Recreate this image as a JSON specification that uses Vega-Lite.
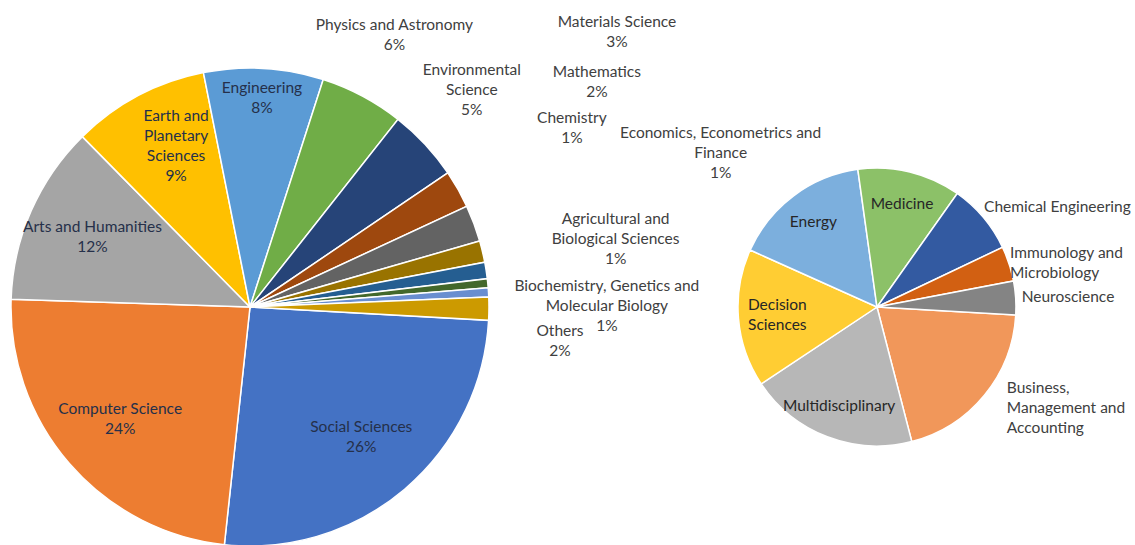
{
  "$schema": "https://vega.github.io/schema/vega-lite/v6.json",
  "width": 1135,
  "height": 476,
  "autosize": {"type": "none"},
  "padding": {"left": 0, "top": 69, "right": 0, "bottom": 0},
  "background": "white",
  "config": {
    "view": {"stroke": null},
    "text": {"font": "Lato", "fontSize": 15.5, "lineHeight": 20, "lineBreak": "\n", "color": "#404040"}
  },
  "datasets": {
    "main": [
      {"rank": 1, "category": "Social Sciences", "label": "Social Sciences", "share": 0.2582, "pie": "main"},
      {"rank": 2, "category": "Computer Science", "label": "Computer Science", "share": 0.2381, "pie": "main"},
      {"rank": 3, "category": "Arts and Humanities", "label": "Arts and Humanities", "share": 0.1211, "pie": "main"},
      {"rank": 4, "category": "Earth and Planetary Sciences", "label": "Earth and\nPlanetary\nSciences", "share": 0.0925, "pie": "main"},
      {"rank": 5, "category": "Engineering", "label": "Engineering", "share": 0.0808, "pie": "main"},
      {"rank": 6, "category": "Physics and Astronomy", "label": "Physics and Astronomy", "share": 0.0567, "pie": "main"},
      {"rank": 7, "category": "Environmental Science", "label": "Environmental\nScience", "share": 0.0489, "pie": "main"},
      {"rank": 8, "category": "Materials Science", "label": "Materials Science", "share": 0.0256, "pie": "main"},
      {"rank": 9, "category": "Mathematics", "label": "Mathematics", "share": 0.0247, "pie": "main"},
      {"rank": 10, "category": "Chemistry", "label": "Chemistry", "share": 0.0145, "pie": "main"},
      {"rank": 11, "category": "Economics, Econometrics and Finance", "label": "Economics, Econometrics and\nFinance", "share": 0.0111, "pie": "main"},
      {"rank": 12, "category": "Agricultural and Biological Sciences", "label": "Agricultural and\nBiological Sciences", "share": 0.0061, "pie": "main"},
      {"rank": 13, "category": "Biochemistry, Genetics and Molecular Biology", "label": "Biochemistry, Genetics and\nMolecular Biology", "share": 0.0061, "pie": "main"},
      {"rank": 14, "category": "Others", "label": "Others", "share": 0.0156, "pie": "main"}
    ],
    "sub": [
      {"rank": 1, "category": "Business, Management and Accounting", "label": "Business,\nManagement and\nAccounting", "share": 0.003129, "pie": "sub"},
      {"rank": 2, "category": "Multidisciplinary", "label": "Multidisciplinary", "share": 0.003072, "pie": "sub"},
      {"rank": 3, "category": "Decision Sciences", "label": "Decision\nSciences", "share": 0.002505, "pie": "sub"},
      {"rank": 4, "category": "Energy", "label": "Energy", "share": 0.002508, "pie": "sub"},
      {"rank": 5, "category": "Medicine", "label": "Medicine", "share": 0.001872, "pie": "sub"},
      {"rank": 6, "category": "Chemical Engineering", "label": "Chemical Engineering", "share": 0.00127, "pie": "sub"},
      {"rank": 7, "category": "Immunology and Microbiology", "label": "Immunology and\nMicrobiology", "share": 0.000633, "pie": "sub"},
      {"rank": 8, "category": "Neuroscience", "label": "Neuroscience", "share": 0.000612, "pie": "sub"}
    ]
  },
  "encoding": {
    "x": {"field": "pie", "type": "nominal", "axis": null,
          "scale": {"type": "point", "domain": ["main", "sub"], "padding": 0.4051, "align": 0.4921}}
  },
  "layer": [
    {
      "data": {"name": "main"},
      "mark": {"type": "arc", "radius": 239, "stroke": "white", "strokeWidth": 1.5},
      "encoding": {
        "theta": {"field": "share", "type": "quantitative", "stack": true, "scale": {"range": [1.62665, 7.90984]}},
        "order": {"field": "rank", "type": "quantitative"},
        "color": {"field": "category", "type": "nominal", "legend": null,
          "scale": {
            "domain": ["Social Sciences", "Computer Science", "Arts and Humanities", "Earth and Planetary Sciences", "Engineering", "Physics and Astronomy", "Environmental Science", "Materials Science", "Mathematics", "Chemistry", "Economics, Econometrics and Finance", "Agricultural and Biological Sciences", "Biochemistry, Genetics and Molecular Biology", "Others", "Business, Management and Accounting", "Multidisciplinary", "Decision Sciences", "Energy", "Medicine", "Chemical Engineering", "Immunology and Microbiology", "Neuroscience"],
            "range": ["#4472C4", "#ED7D31", "#A5A5A5", "#FFC000", "#5B9BD5", "#70AD47", "#264478", "#9E480E", "#636363", "#997300", "#255E91", "#43682B", "#698ED0", "#CC9A00", "#F1975A", "#B7B7B7", "#FFCD33", "#7CAFDD", "#8CC168", "#335AA1", "#D26012", "#848484"]
          }}
      }
    },
    {
      "data": {"name": "sub"},
      "mark": {"type": "arc", "radius": 139, "stroke": "white", "strokeWidth": 1.5},
      "encoding": {
        "theta": {"field": "share", "type": "quantitative", "stack": true, "scale": {"range": [1.6284, 7.91159]}},
        "order": {"field": "rank", "type": "quantitative"},
        "color": {"field": "category", "type": "nominal", "legend": null}
      }
    },
    {
      "data": {"name": "main"},
      "mark": {"type": "text", "radius": 172, "baseline": "line-bottom", "align": "center", "color": "#25304a"},
      "encoding": {
        "theta": {"field": "share", "type": "quantitative", "stack": true, "scale": {"range": [1.62665, 7.90984]}},
        "order": {"field": "rank", "type": "quantitative"},
        "detail": {"field": "category", "type": "nominal"},
        "text": {"condition": {"test": {"field": "category", "oneOf": ["Social Sciences", "Computer Science", "Arts and Humanities"]}, "field": "label", "type": "nominal"}, "value": ""}
      }
    },
    {
      "data": {"name": "main"},
      "mark": {"type": "text", "radius": 172, "baseline": "line-top", "align": "center", "color": "#25304a"},
      "encoding": {
        "theta": {"field": "share", "type": "quantitative", "stack": true, "scale": {"range": [1.62665, 7.90984]}},
        "order": {"field": "rank", "type": "quantitative"},
        "detail": {"field": "category", "type": "nominal"},
        "text": {"condition": {"test": {"field": "category", "oneOf": ["Social Sciences", "Computer Science", "Arts and Humanities"]}, "field": "share", "type": "quantitative", "format": ".0%"}, "value": ""}
      }
    },
    {
      "data": {"name": "main"},
      "mark": {"type": "text", "radius": 158, "baseline": "line-bottom", "align": "center", "dy": -40, "color": "#25304a"},
      "encoding": {
        "theta": {"field": "share", "type": "quantitative", "stack": true, "scale": {"range": [1.62665, 7.90984]}},
        "order": {"field": "rank", "type": "quantitative"},
        "detail": {"field": "category", "type": "nominal"},
        "text": {"condition": {"test": {"field": "category", "oneOf": ["Earth and Planetary Sciences"]}, "field": "label", "type": "nominal"}, "value": ""}
      }
    },
    {
      "data": {"name": "main"},
      "mark": {"type": "text", "radius": 158, "baseline": "line-top", "align": "center", "color": "#25304a"},
      "encoding": {
        "theta": {"field": "share", "type": "quantitative", "stack": true, "scale": {"range": [1.62665, 7.90984]}},
        "order": {"field": "rank", "type": "quantitative"},
        "detail": {"field": "category", "type": "nominal"},
        "text": {"condition": {"test": {"field": "category", "oneOf": ["Earth and Planetary Sciences"]}, "field": "share", "type": "quantitative", "format": ".0%"}, "value": ""}
      }
    },
    {
      "data": {"name": "main"},
      "mark": {"type": "text", "radius": 208, "baseline": "line-bottom", "align": "center", "color": "#25304a"},
      "encoding": {
        "theta": {"field": "share", "type": "quantitative", "stack": true, "scale": {"range": [1.62665, 7.90984]}},
        "order": {"field": "rank", "type": "quantitative"},
        "detail": {"field": "category", "type": "nominal"},
        "text": {"condition": {"test": {"field": "category", "oneOf": ["Engineering"]}, "field": "label", "type": "nominal"}, "value": ""}
      }
    },
    {
      "data": {"name": "main"},
      "mark": {"type": "text", "radius": 208, "baseline": "line-top", "align": "center", "color": "#25304a"},
      "encoding": {
        "theta": {"field": "share", "type": "quantitative", "stack": true, "scale": {"range": [1.62665, 7.90984]}},
        "order": {"field": "rank", "type": "quantitative"},
        "detail": {"field": "category", "type": "nominal"},
        "text": {"condition": {"test": {"field": "category", "oneOf": ["Engineering"]}, "field": "share", "type": "quantitative", "format": ".0%"}, "value": ""}
      }
    },
    {
      "data": {"name": "main"},
      "mark": {"type": "text", "radius": 307, "baseline": "line-bottom", "align": "center"},
      "encoding": {
        "theta": {"field": "share", "type": "quantitative", "stack": true, "scale": {"range": [1.62665, 7.90984]}},
        "order": {"field": "rank", "type": "quantitative"},
        "detail": {"field": "category", "type": "nominal"},
        "text": {"condition": {"test": {"field": "category", "oneOf": ["Physics and Astronomy"]}, "field": "label", "type": "nominal"}, "value": ""}
      }
    },
    {
      "data": {"name": "main"},
      "mark": {"type": "text", "radius": 303, "baseline": "line-bottom", "align": "center", "dy": -20},
      "encoding": {
        "theta": {"field": "share", "type": "quantitative", "stack": true, "scale": {"range": [1.62665, 7.90984]}},
        "order": {"field": "rank", "type": "quantitative"},
        "detail": {"field": "category", "type": "nominal"},
        "text": {"condition": {"test": {"field": "category", "oneOf": ["Environmental Science"]}, "field": "label", "type": "nominal"}, "value": ""}
      }
    },
    {
      "data": {"name": "main"},
      "mark": {"type": "text", "radius": 307, "baseline": "line-top", "align": "center"},
      "encoding": {
        "theta": {"field": "share", "type": "quantitative", "stack": true, "scale": {"range": [1.62665, 7.90984]}},
        "order": {"field": "rank", "type": "quantitative"},
        "detail": {"field": "category", "type": "nominal"},
        "text": {"condition": {"test": {"field": "category", "oneOf": ["Physics and Astronomy"]}, "field": "share", "type": "quantitative", "format": ".0%"}, "value": ""}
      }
    },
    {
      "data": {"name": "main"},
      "mark": {"type": "text", "radius": 303, "baseline": "line-top", "align": "center"},
      "encoding": {
        "theta": {"field": "share", "type": "quantitative", "stack": true, "scale": {"range": [1.62665, 7.90984]}},
        "order": {"field": "rank", "type": "quantitative"},
        "detail": {"field": "category", "type": "nominal"},
        "text": {"condition": {"test": {"field": "category", "oneOf": ["Environmental Science"]}, "field": "share", "type": "quantitative", "format": ".0%"}, "value": ""}
      }
    },
    {
      "data": {"name": "main"},
      "transform": [{"filter": {"field": "rank", "gte": 8}}],
      "mark": {"type": "text", "baseline": "line-bottom", "align": "center"},
      "encoding": {
        "theta": {"field": "rank", "type": "quantitative", "stack": null,
                  "scale": {"type": "linear", "zero": false, "domain": [8, 10, 11, 12, 13, 14], "range": [0.92939, 1.06465, 1.27496, 1.41721, 1.59872, 1.68424]}},
        "radius": {"field": "rank", "type": "quantitative",
                  "scale": {"type": "linear", "zero": false, "domain": [8, 10, 11, 12, 13, 14], "range": [458, 368, 492, 370, 357, 312]}},
        "text": {"condition": {"test": {"field": "category", "oneOf": ["Materials Science", "Mathematics", "Chemistry", "Others"]}, "field": "label", "type": "nominal"}, "value": ""}
      }
    },
    {
      "data": {"name": "main"},
      "transform": [{"filter": {"field": "rank", "gte": 8}}],
      "mark": {"type": "text", "baseline": "line-bottom", "align": "center", "dy": -20},
      "encoding": {
        "theta": {"field": "rank", "type": "quantitative", "stack": null,
                  "scale": {"type": "linear", "zero": false, "domain": [8, 10, 11, 12, 13, 14], "range": [0.92939, 1.06465, 1.27496, 1.41721, 1.59872, 1.68424]}},
        "radius": {"field": "rank", "type": "quantitative",
                  "scale": {"type": "linear", "zero": false, "domain": [8, 10, 11, 12, 13, 14], "range": [458, 368, 492, 370, 357, 312]}},
        "text": {"condition": {"test": {"field": "category", "oneOf": ["Economics, Econometrics and Finance", "Agricultural and Biological Sciences", "Biochemistry, Genetics and Molecular Biology"]}, "field": "label", "type": "nominal"}, "value": ""}
      }
    },
    {
      "data": {"name": "main"},
      "transform": [{"filter": {"field": "rank", "gte": 8}}],
      "mark": {"type": "text", "baseline": "line-top", "align": "center"},
      "encoding": {
        "theta": {"field": "rank", "type": "quantitative", "stack": null,
                  "scale": {"type": "linear", "zero": false, "domain": [8, 10, 11, 12, 13, 14], "range": [0.92939, 1.06465, 1.27496, 1.41721, 1.59872, 1.68424]}},
        "radius": {"field": "rank", "type": "quantitative",
                  "scale": {"type": "linear", "zero": false, "domain": [8, 10, 11, 12, 13, 14], "range": [458, 368, 492, 370, 357, 312]}},
        "text": {"field": "share", "type": "quantitative", "format": ".0%"}
      }
    },
    {
      "data": {"name": "sub"},
      "mark": {"type": "text", "radius": 106, "baseline": "middle", "align": "center", "color": "#262626"},
      "encoding": {
        "theta": {"field": "share", "type": "quantitative", "stack": true, "scale": {"range": [1.6284, 7.91159]}},
        "order": {"field": "rank", "type": "quantitative"},
        "detail": {"field": "category", "type": "nominal"},
        "text": {"condition": {"test": {"field": "category", "oneOf": ["Energy", "Medicine", "Multidisciplinary"]}, "field": "label", "type": "nominal"}, "value": ""}
      }
    },
    {
      "data": {"name": "sub"},
      "mark": {"type": "text", "radius": 100, "baseline": "middle", "align": "center", "dy": -10, "color": "#262626"},
      "encoding": {
        "theta": {"field": "share", "type": "quantitative", "stack": true, "scale": {"range": [1.6284, 7.91159]}},
        "order": {"field": "rank", "type": "quantitative"},
        "detail": {"field": "category", "type": "nominal"},
        "text": {"condition": {"test": {"field": "category", "oneOf": ["Decision Sciences"]}, "field": "label", "type": "nominal"}, "value": ""}
      }
    },
    {
      "data": {"name": "sub"},
      "mark": {"type": "text", "radius": 145, "baseline": "middle", "align": "left"},
      "encoding": {
        "theta": {"field": "share", "type": "quantitative", "stack": true, "scale": {"range": [1.6284, 7.91159]}},
        "order": {"field": "rank", "type": "quantitative"},
        "detail": {"field": "category", "type": "nominal"},
        "text": {"condition": {"test": {"field": "category", "oneOf": ["Neuroscience"]}, "field": "label", "type": "nominal"}, "value": ""}
      }
    },
    {
      "data": {"name": "sub"},
      "mark": {"type": "text", "radius": 140, "baseline": "middle", "align": "left", "dy": -10},
      "encoding": {
        "theta": {"field": "share", "type": "quantitative", "stack": true, "scale": {"range": [1.6284, 7.91159]}},
        "order": {"field": "rank", "type": "quantitative"},
        "detail": {"field": "category", "type": "nominal"},
        "text": {"condition": {"test": {"field": "category", "oneOf": ["Chemical Engineering", "Immunology and Microbiology"]}, "field": "label", "type": "nominal"}, "value": ""}
      }
    },
    {
      "data": {"name": "sub"},
      "mark": {"type": "text", "radius": 168, "baseline": "middle", "align": "left", "dy": -26},
      "encoding": {
        "theta": {"field": "share", "type": "quantitative", "stack": true, "scale": {"range": [1.6284, 7.91159]}},
        "order": {"field": "rank", "type": "quantitative"},
        "detail": {"field": "category", "type": "nominal"},
        "text": {"condition": {"test": {"field": "category", "oneOf": ["Business, Management and Accounting"]}, "field": "label", "type": "nominal"}, "value": ""}
      }
    }
  ],
  "resolve": {"scale": {"theta": "independent", "radius": "independent"}}
}
